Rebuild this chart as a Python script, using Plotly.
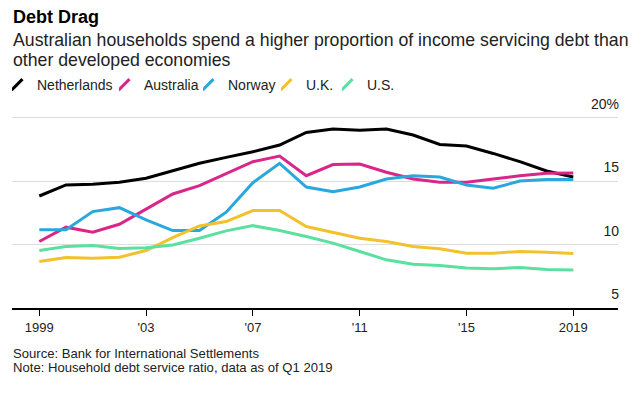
import plotly.graph_objects as go

years = list(range(1999, 2020))
netherlands = [13.84, 14.71, 14.76, 14.92, 15.24, 15.81, 16.42, 16.89, 17.33, 17.86, 18.86,
               19.12, 19.02, 19.12, 18.65, 17.91, 17.78, 17.20, 16.55, 15.81, 15.34]
australia = [10.25, 11.38, 10.98, 11.61, 12.80, 14.00, 14.66, 15.63, 16.55, 16.99, 15.44,
             16.32, 16.36, 15.71, 15.18, 14.92, 14.92, 15.18, 15.44, 15.63, 15.66]
norway = [11.17, 11.17, 12.61, 12.92, 11.95, 11.11, 11.11, 12.56, 14.89, 16.42, 14.55,
          14.18, 14.55, 15.18, 15.44, 15.34, 14.71, 14.45, 15.02, 15.15, 15.15]
uk = [8.67, 8.98, 8.93, 9.00, 9.54, 10.56, 11.48, 11.82, 12.69, 12.69, 11.43,
      10.98, 10.51, 10.25, 9.85, 9.67, 9.33, 9.33, 9.46, 9.40, 9.30]
us = [9.54, 9.85, 9.93, 9.69, 9.75, 9.98, 10.51, 11.09, 11.50, 11.11, 10.64,
      10.12, 9.46, 8.80, 8.46, 8.35, 8.15, 8.09, 8.20, 8.04, 7.99]

series_names = ["Netherlands", "Australia", "Norway", "U.K.", "U.S."]
series_values = [netherlands, australia, norway, uk, us]
colors = ["#000000", "#d9268a", "#2aa7dd", "#f2c12e", "#5ce0a0"]

x_tickvals = [1999, 2003, 2007, 2011, 2015, 2019]
x_ticktext = ["1999", "'03", "'07", "'11", "'15", "2019"]
y_tickvals = [5, 10, 15, 20]
y_ticktext = ["5", "10", "15", "20%"]

FONT = "Liberation Sans, Arial, sans-serif"

# page has an 8px body margin: figure coordinates = page coordinates - O
O = 8
W, H = 643 - 2 * O, 399 - 2 * O
L, R, T, B = 4, 17, 86, 83
pw = W - L - R
ph = H - T - B

def px(p):
    return (p - O - L) / pw

def py(p):
    return (H - B - (p - O)) / ph

legend_ids = ["legend", "legend2", "legend3", "legend4", "legend5"]
legend_glyph_x = [17, 124, 208, 286, 347]

fig = go.Figure()
for name, vals, c in zip(series_names, series_values, colors):
    fig.add_trace(go.Scatter(x=years, y=vals, mode="lines", name=name,
                             line=dict(color=c, width=3), showlegend=False,
                             hoverinfo="skip"))
# legend entries with slanted glyphs
for name, c, lid in zip(series_names, colors, legend_ids):
    fig.add_trace(go.Scatter(x=[None], y=[None], mode="markers", name=name,
                             marker=dict(symbol="line-ne", size=11,
                                         line=dict(color=c, width=3)),
                             showlegend=True, legend=lid))

legend_layout = {}
for lid, gx in zip(legend_ids, legend_glyph_x):
    legend_layout[lid] = dict(orientation="h", x=max(px(gx - 5), 0), xanchor="left",
                              y=py(85), yanchor="middle", indentation=-15,
                              font=dict(size=14, color="#222"), itemwidth=30,
                              bgcolor="rgba(0,0,0,0)")

TX = px(11)

fig.update_layout(
    width=W, height=H,
    margin=dict(l=L, r=R, t=T, b=B, autoexpand=False),
    paper_bgcolor="white", plot_bgcolor="white",
    font=dict(family=FONT, color="#222"),
    showlegend=True,
    xaxis=dict(range=[1997.978, 2020.674], tickvals=x_tickvals, ticktext=x_ticktext,
               showgrid=False, zeroline=False, showline=True, linecolor="#000",
               linewidth=1.5, ticks="outside", ticklen=6, tickcolor="#000",
               ticklabelstandoff=1, automargin=False,
               tickfont=dict(size=13, color="#222"), fixedrange=True),
    yaxis=dict(range=[5, 5 + ph / 12.67], tickvals=y_tickvals, ticktext=y_ticktext,
               side="right", ticklabelposition="inside top", showgrid=True,
               ticklabelstandoff=-4, ticklabelshift=-4, automargin=False,
               gridcolor="#dddddd", gridwidth=1, zeroline=False, showline=False,
               ticks="", tickfont=dict(size=14, color="#222"), fixedrange=True),
    annotations=[
        dict(text="<b>Debt Drag</b>", xref="paper", yref="paper", x=TX, y=py(16.5),
             xanchor="left", yanchor="middle", showarrow=False,
             font=dict(size=18, color="#000")),
        dict(text="Australian households spend a higher proportion of income servicing debt than",
             xref="paper", yref="paper", x=TX, y=py(40), xanchor="left", yanchor="middle",
             showarrow=False, font=dict(size=17.7, color="#222")),
        dict(text="other developed economies",
             xref="paper", yref="paper", x=TX, y=py(60), xanchor="left", yanchor="middle",
             showarrow=False, font=dict(size=17.7, color="#222")),
        dict(text="Source: Bank for International Settlements",
             xref="paper", yref="paper", x=TX, y=py(353.5), xanchor="left", yanchor="middle",
             showarrow=False, font=dict(size=13.1, color="#222")),
        dict(text="Note: Household debt service ratio, data as of Q1 2019",
             xref="paper", yref="paper", x=TX, y=py(367.5), xanchor="left", yanchor="middle",
             showarrow=False, font=dict(size=13.1, color="#222")),
    ],
    **legend_layout,
)

fig.write_html("out.html")
